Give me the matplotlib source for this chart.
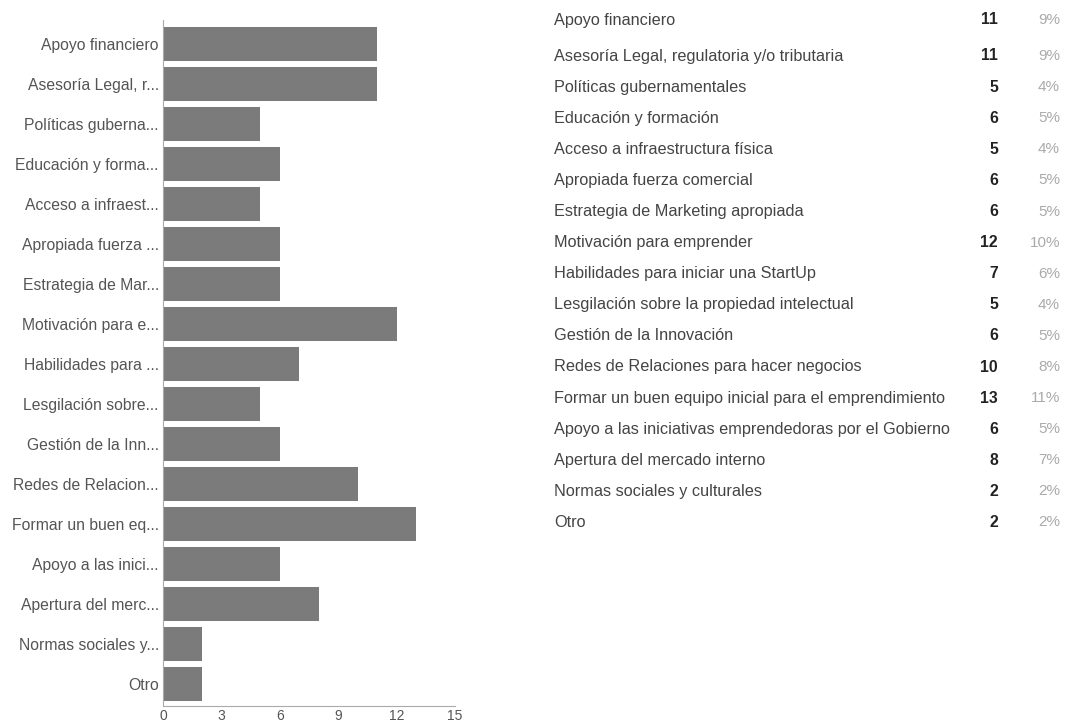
import matplotlib.pyplot as plt

plt.rcParams['font.family'] = ['Liberation Sans', 'DejaVu Sans']

# answers and their counts
categories = [
    'Apoyo financiero',
    'Asesoría Legal, regulatoria y/o tributaria',
    'Políticas gubernamentales',
    'Educación y formación',
    'Acceso a infraestructura física',
    'Apropiada fuerza comercial',
    'Estrategia de Marketing apropiada',
    'Motivación para emprender',
    'Habilidades para iniciar una StartUp',
    'Lesgilación sobre la propiedad intelectual',
    'Gestión de la Innovación',
    'Redes de Relaciones para hacer negocios',
    'Formar un buen equipo inicial para el emprendimiento',
    'Apoyo a las iniciativas emprendedoras por el Gobierno',
    'Apertura del mercado interno',
    'Normas sociales y culturales',
    'Otro',
]
counts = [11, 11, 5, 6, 5, 6, 6, 12, 7, 5, 6, 10, 13, 6, 8, 2, 2]
xticks = [0, 3, 6, 9, 12, 15]

total = sum(counts)
percents = [f'{round(100 * c / total)}%' for c in counts]


def shorten(name, n=17):
    return name if len(name) <= n + 1 else name[:n] + '...'


W, H = 1066, 727
fig = plt.figure(figsize=(W / 100, H / 100), dpi=100)
ax = fig.add_axes([163 / W, 21 / H, (455 - 163) / W, (706 - 20) / H])

pos = list(range(len(categories)))
ax.barh(pos, counts, height=0.85, color='#7b7b7b')
ax.set_ylim(len(categories) - 0.5 + 0.06, -0.5 - 0.09)
ax.set_xlim(0, 15)
ax.set_yticks(pos)
ax.set_yticklabels([shorten(c) for c in categories], fontsize=11.3, color='#555555')
ax.set_xticks(xticks)
ax.set_xticklabels([str(t) for t in xticks], fontsize=10, color='#555555')
ax.tick_params(length=0, pad=3)
ax.tick_params(axis='x', pad=2)
for side in ['top', 'right']:
    ax.spines[side].set_visible(False)
for side in ['left', 'bottom']:
    ax.spines[side].set_color('#aaaaaa')
    ax.spines[side].set_linewidth(0.8)

# summary table on the right
rows_y = [20] + [56 + 31.1 * k for k in range(len(categories) - 1)]
for name, c, p, py in zip(categories, counts, percents, rows_y):
    fy = 1 - py / H
    fig.text(554 / W, fy, name, fontsize=11.7, color='#444444', va='center', ha='left')
    fig.text(998 / W, fy, str(c), fontsize=11.3, color='#222222', fontweight='bold',
             va='center', ha='right')
    fig.text(1060 / W, fy, p, fontsize=11, color='#aaaaaa', va='center', ha='right')

fig.savefig('out.png', dpi=100)
